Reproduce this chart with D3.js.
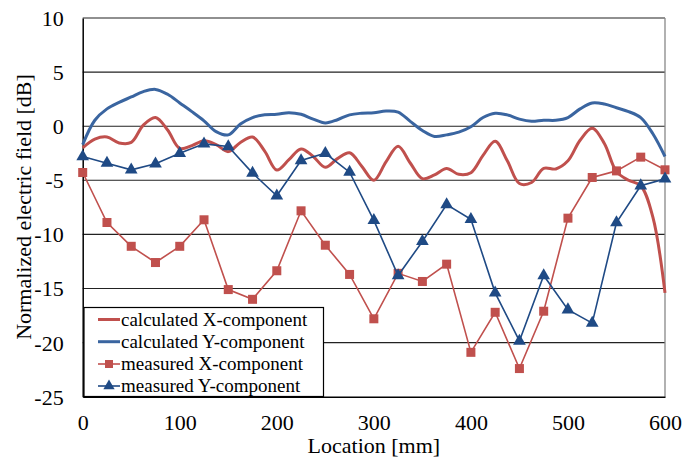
<!DOCTYPE html>
<html><head><meta charset="utf-8">
<script src="https://cdn.jsdelivr.net/npm/d3@7"></script>
<style>body{margin:0;background:#fff}svg{display:block}</style>
</head><body>
<svg id="c" width="683" height="460"></svg>
<script>
const calcX = d3.range(0, 600.01, 12.5);
const calcXComp = [-2.0,-1.2,-1.0,-1.55,-1.5,0.1,0.8,-0.35,-2.05,-1.8,-1.35,-1.7,-2.35,-1.5,-1.0,-2.3,-4.05,-3.1,-2.1,-2.8,-3.8,-3.0,-2.45,-3.7,-5.0,-3.3,-1.85,-3.4,-4.85,-4.5,-3.9,-4.45,-4.3,-2.7,-1.4,-3.2,-5.3,-5.2,-3.9,-3.95,-3.2,-1.3,-0.2,-1.6,-4.2,-5.0,-5.5,-8.4,-15.4];
const calcYComp = [-1.7,0.55,1.6,2.2,2.7,3.2,3.4,2.95,2.15,1.35,0.5,-0.5,-0.8,0.2,0.8,1.05,1.1,1.25,1.1,0.65,0.3,0.6,1.05,1.2,1.25,1.4,1.3,0.45,-0.4,-0.95,-0.8,-0.55,-0.05,0.8,1.2,1.05,0.65,0.45,0.55,0.55,0.8,1.6,2.15,2.05,1.7,1.35,0.8,-0.7,-2.8];
const measX = d3.range(0, 600.01, 25);
const measXComp = [-4.28,-8.9,-11.1,-12.6,-11.1,-8.65,-15.1,-16.0,-13.36,-7.82,-11.0,-13.7,-17.8,-13.6,-14.35,-12.75,-20.9,-17.2,-22.4,-17.1,-8.5,-4.74,-4.13,-2.86,-4.03];
const measYComp = [-2.8,-3.42,-4.03,-3.48,-2.5,-1.63,-1.88,-4.34,-6.43,-3.17,-2.5,-4.25,-8.71,-13.8,-10.65,-7.24,-8.6,-15.4,-19.85,-13.8,-16.96,-18.2,-8.9,-5.5,-4.87];
const xTicks = [0,100,200,300,400,500,600];
const yTicks = [10,5,0,-5,-10,-15,-20,-25];
const legendLabels = ["calculated X-component","calculated Y-component","measured X-component","measured Y-component"];

const RED = "#C0504D", BLUE_C = "#3A65A0", BLUE_M = "#1F4A85";
const font = "'Liberation Serif','Times New Roman',serif";
const svg = d3.select("#c");
const L = 82.7, R = 665, T = 18, B = 396.7;
const x = d3.scaleLinear().domain([0,600]).range([L,R]);
const y = d3.scaleLinear().domain([-25,10]).range([B,T]);

// gridlines
svg.append("g").selectAll("line").data(yTicks.filter(v=>v>-25)).join("line")
  .attr("x1",L).attr("x2",R).attr("y1",d=>y(d)).attr("y2",d=>y(d))
  .attr("stroke","#222").attr("stroke-width",1.1);
// right border
svg.append("line").attr("x1",R).attr("x2",R).attr("y1",T).attr("y2",B).attr("stroke","#888").attr("stroke-width",1.3);

// axes
const yAxis = d3.axisLeft(y).tickValues(yTicks).tickSize(0).tickPadding(19).tickFormat(d=>String(d));
const gy = svg.append("g").attr("transform",`translate(${L},0)`).call(yAxis);
const xAxis = d3.axisBottom(x).tickValues(xTicks).tickSize(0).tickPadding(18).tickFormat(d=>String(d));
const gx = svg.append("g").attr("transform",`translate(0,${B})`).call(xAxis);
[gx,gy].forEach(g=>{
  g.attr("font-family",font).attr("font-size",22);
  g.select(".domain").attr("stroke","#000").attr("stroke-width",1.5);
  g.selectAll("text").attr("fill","#000");
});
gy.selectAll("text").attr("dy","0.34em");

// axis titles
svg.append("text").attr("x",(L+R)/2).attr("y",453).attr("text-anchor","middle")
  .attr("font-family",font).attr("font-size",22).text("Location [mm]");
svg.append("text").attr("transform","translate(31,207) rotate(-90)").attr("text-anchor","middle")
  .attr("font-family",font).attr("font-size",22).text("Normalized electric field [dB]");

// calculated curves
const line = d3.line().x(d=>x(d[0])).y(d=>y(d[1])).curve(d3.curveCatmullRom.alpha(0.5));
svg.append("path").datum(calcX.map((v,i)=>[v,calcXComp[i]])).attr("d",line)
  .attr("fill","none").attr("stroke",RED).attr("stroke-width",3);
svg.append("path").datum(calcX.map((v,i)=>[v,calcYComp[i]])).attr("d",line)
  .attr("fill","none").attr("stroke",BLUE_C).attr("stroke-width",3);

// measured
const lin = d3.line().x(d=>x(d[0])).y(d=>y(d[1]));
const mx = measX.map((v,i)=>[v,measXComp[i]]);
const my = measX.map((v,i)=>[v,measYComp[i]]);
svg.append("path").datum(mx).attr("d",lin).attr("fill","none").attr("stroke",RED).attr("stroke-width",1.6);
svg.append("g").selectAll("rect").data(mx).join("rect")
  .attr("x",d=>x(d[0])-4.5).attr("y",d=>y(d[1])-4.5).attr("width",9).attr("height",9).attr("fill",RED);
svg.append("path").datum(my).attr("d",lin).attr("fill","none").attr("stroke",BLUE_M).attr("stroke-width",1.6);
const tri = d3.symbol().type(d3.symbolTriangle).size(70);
svg.append("g").selectAll("path").data(my).join("path")
  .attr("transform",d=>`translate(${x(d[0])},${y(d[1])})`).attr("d",tri).attr("fill",BLUE_M);

// legend
const lg = svg.append("g");
lg.append("rect").attr("x",84).attr("y",307.5).attr("width",239.5).attr("height",89)
  .attr("fill","#fff").attr("stroke","#000").attr("stroke-width",1.2);
const rows = [319.5,341.7,364,386];
const styles = [{c:RED,w:3,m:null},{c:BLUE_C,w:3,m:null},{c:RED,w:1.6,m:"sq"},{c:BLUE_M,w:1.6,m:"tri"}];
legendLabels.forEach((t,i)=>{
  const yy = rows[i], s = styles[i];
  lg.append("line").attr("x1",98).attr("x2",120).attr("y1",yy).attr("y2",yy).attr("stroke",s.c).attr("stroke-width",s.w);
  if(s.m==="sq") lg.append("rect").attr("x",105).attr("y",yy-4).attr("width",8).attr("height",8).attr("fill",s.c);
  if(s.m==="tri") lg.append("path").attr("transform",`translate(109,${yy})`).attr("d",d3.symbol().type(d3.symbolTriangle).size(55)).attr("fill",s.c);
  lg.append("text").attr("x",121).attr("y",yy).attr("dy","0.33em").attr("font-family",font).attr("font-size",19).text(t);
});
</script>
</body></html>
